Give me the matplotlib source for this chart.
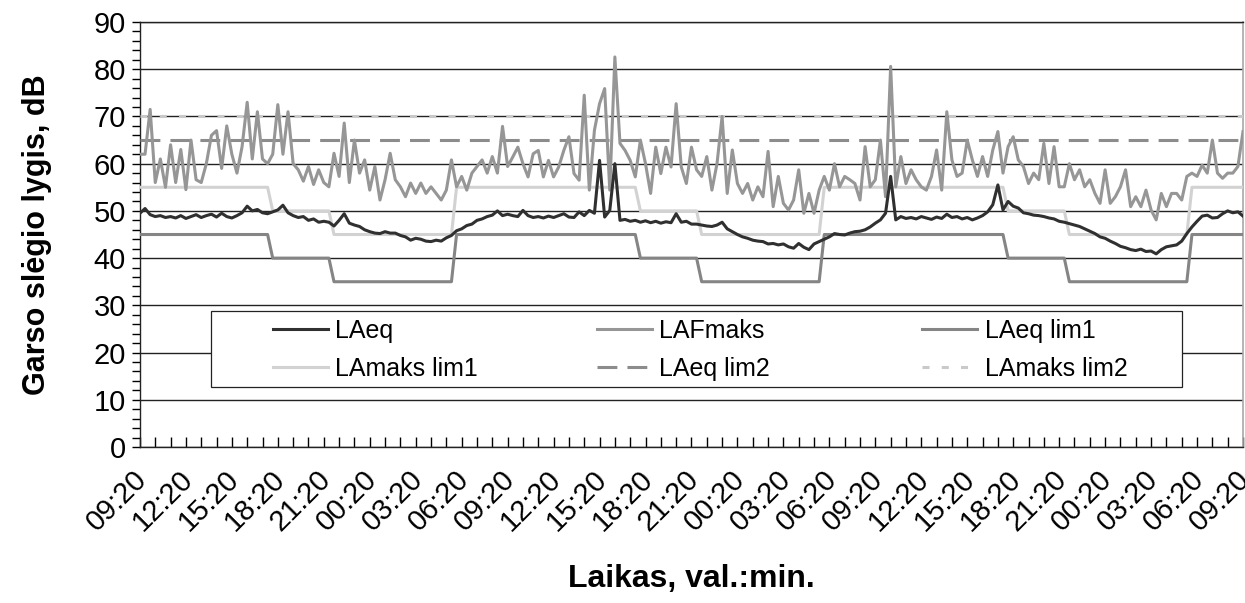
import numpy as np
import matplotlib
matplotlib.use("Agg")
import matplotlib.pyplot as plt
import matplotlib.transforms as mtransforms
from matplotlib.ticker import MultipleLocator
from matplotlib.patches import Rectangle

plt.rcParams['font.family'] = ['Liberation Sans', 'DejaVu Sans']

# Measurement series, one value every 20 minutes starting 09:20 (3 days)
SAMPLE_MIN = 20
START_HOUR = 9 + 20 / 60

laeq = [
    49.5, 50.5, 49.2, 48.8, 49.0, 48.6, 48.8, 48.5, 49.0, 48.4, 48.8, 49.2, 48.6,
    49.0, 49.3, 48.7, 49.5, 48.8, 48.5, 49.0, 49.6, 51.0, 50.0, 50.3, 49.6,
    49.4, 49.8, 50.2, 51.2, 49.6, 49.0, 48.6, 48.8, 48.0, 48.3, 47.6, 47.8,
    47.6, 46.8, 48.0, 49.4, 47.4, 47.0, 46.7, 46.0, 45.6, 45.3, 45.2, 45.6,
    45.3, 45.3, 44.8, 44.5, 43.8, 44.2, 44.0, 43.6, 43.5, 43.8, 43.6, 44.3,
    44.8, 45.8, 46.2, 46.9, 47.2, 48.0, 48.3, 48.8, 49.1, 50.0, 49.0, 49.3,
    49.0, 48.8, 50.1, 49.0, 48.6, 48.8, 48.5, 48.9, 48.6, 49.0, 49.4, 48.7,
    48.6, 49.8, 49.0, 50.1, 49.5, 60.7, 48.7, 50.1, 60.0, 48.0, 48.2, 47.8,
    48.0, 47.6, 47.9, 47.5, 47.8, 47.4, 47.7, 47.5, 49.4, 47.6, 47.8, 47.2,
    47.2, 47.0, 46.8, 46.7, 47.0, 47.6, 46.2, 45.6, 45.0, 44.5, 44.2, 43.8,
    43.6, 43.5, 43.0, 43.1, 42.8, 43.0, 42.4, 42.1, 43.1, 42.3, 41.8, 43.0,
    43.5, 44.0, 44.5, 45.2, 45.0, 44.9, 45.3, 45.6, 45.7, 46.0, 46.6, 47.4,
    48.1, 49.5, 57.3, 48.1, 48.8, 48.4, 48.6, 48.3, 48.8, 48.5, 48.2, 48.7,
    48.4, 49.3, 48.6, 48.8, 48.3, 48.6, 48.1, 48.5, 49.0, 49.8, 51.3, 55.5,
    50.2, 52.0, 51.0, 50.6, 49.6, 49.4, 49.1, 49.0, 48.8, 48.5, 48.3, 47.8,
    47.6, 47.3, 47.0, 46.7, 46.2, 45.7, 45.2, 44.5, 44.2, 43.6, 43.1, 42.5,
    42.2, 41.8, 41.6, 41.9, 41.4, 41.5, 40.9, 41.8, 42.4, 42.6, 42.8, 43.6,
    45.2, 46.6, 47.8, 48.9, 49.1, 48.5, 48.6, 49.4, 50.0, 49.6, 49.8, 48.9,
]

lafmaks = [
    62.0, 62.0, 71.5, 56.0, 61.0, 55.0, 64.0, 56.0, 63.0, 54.5, 65.0, 56.6, 56.0,
    60.0, 66.0, 67.0, 59.0, 68.0, 62.0, 58.0, 63.6, 73.0, 61.0, 71.0, 61.0,
    60.0, 62.0, 72.5, 62.0, 71.0, 60.0, 58.7, 56.3, 59.4, 55.6, 58.7, 56.0,
    55.1, 62.2, 57.3, 68.6, 56.0, 65.0, 58.0, 60.8, 54.4, 59.4, 52.3, 56.6,
    62.2, 56.6, 55.1, 53.0, 55.9, 53.7, 55.9, 53.7, 55.1, 53.7, 52.3, 54.4,
    60.8, 55.1, 57.3, 54.4, 58.0, 59.4, 60.8, 58.0, 61.5, 58.0, 67.9, 59.4,
    61.4, 63.5, 60.0, 57.2, 62.1, 62.8, 57.2, 60.7, 57.2, 59.3, 62.8, 65.7,
    57.9, 56.5, 74.5, 54.4, 67.1, 72.7, 75.9, 54.4, 82.6, 64.3, 62.8, 60.7,
    57.2, 65.0, 60.0, 53.7, 63.5, 57.9, 63.5, 59.3, 72.7, 59.3, 55.8, 63.5,
    58.7, 57.3, 61.5, 54.4, 60.0, 70.0, 53.7, 62.9, 55.8, 53.7, 55.8, 52.3,
    55.1, 53.0, 62.6, 50.9, 57.3, 51.6, 50.2, 52.3, 58.7, 49.5, 53.7, 49.5,
    54.4, 57.3, 54.4, 60.0, 55.1, 57.3, 56.6, 55.8, 52.3, 63.6, 55.1, 56.6,
    65.0, 53.0, 80.6, 55.1, 61.5, 55.8, 58.7, 56.6, 55.1, 54.4, 57.3, 62.9,
    54.4, 71.0, 60.8, 57.3, 58.0, 65.0, 60.8, 57.3, 61.5, 57.3, 62.9, 66.8,
    58.0, 63.6, 65.7, 60.8, 59.4, 55.8, 58.0, 56.6, 64.3, 55.8, 63.6, 55.1,
    55.1, 60.0, 56.6, 58.7, 55.1, 56.6, 53.7, 51.6, 58.7, 51.6, 53.0, 55.1,
    58.7, 50.9, 53.0, 50.9, 54.4, 50.2, 48.1, 53.7, 50.9, 53.7, 53.7, 52.3,
    57.3, 58.0, 57.3, 59.7, 58.0, 65.0, 58.0, 56.9, 58.0, 58.0, 59.4, 66.8,
]

# Permitted levels: day (06-18), evening (18-22), night (22-06)
period_start_h = [6, 18, 22]
laeq_lim1_levels = [45, 40, 35]
lamaks_lim1_levels = [55, 50, 45]
laeq_lim2_level = 65
lamaks_lim2_level = 70

tick_labels = ["09:20", "12:20", "15:20", "18:20", "21:20", "00:20", "03:20",
               "06:20", "09:20", "12:20", "15:20", "18:20", "21:20", "00:20",
               "03:20", "06:20", "09:20", "12:20", "15:20", "18:20", "21:20",
               "00:20", "03:20", "06:20", "09:20"]

hours = np.arange(len(laeq)) * SAMPLE_MIN / 60.0
clock = (START_HOUR + hours) % 24


def limit_for(levels):
    day, eve, night = levels
    return np.where((clock >= period_start_h[0]) & (clock < period_start_h[1]), day,
                    np.where((clock >= period_start_h[1]) & (clock < period_start_h[2]), eve, night))


laeq_lim1 = limit_for(laeq_lim1_levels)
lamaks_lim1 = limit_for(lamaks_lim1_levels)
laeq_lim2 = np.full(len(hours), laeq_lim2_level, dtype=float)
lamaks_lim2 = np.full(len(hours), lamaks_lim2_level, dtype=float)

fig = plt.figure(figsize=(12.45, 6.03), dpi=100)
ax = fig.add_axes([0.1124, 0.2587, 0.8860, 0.7048])

LW = 2.2
l_lim2m, = ax.plot(hours, lamaks_lim2, color='#c9c9c9', lw=LW, dashes=(2.3, 4.0),
                   label='LAmaks lim2', zorder=3)
l_lim2e, = ax.plot(hours, laeq_lim2, color='#8c8c8c', lw=LW, dashes=(6.5, 3.3),
                   label='LAeq lim2', zorder=3)
l_lim1m, = ax.plot(hours, lamaks_lim1, color='#d2d2d2', lw=LW, label='LAmaks lim1', zorder=3)
l_lim1e, = ax.plot(hours, laeq_lim1, color='#858585', lw=LW, label='LAeq lim1', zorder=3)
l_max, = ax.plot(hours, lafmaks, color='#969696', lw=LW, label='LAFmaks', zorder=4)
l_eq, = ax.plot(hours, laeq, color='#303030', lw=LW, label='LAeq', zorder=5)

ax.set_xlim(0, hours[-1])
ax.set_ylim(0, 90)

ax.yaxis.set_major_locator(MultipleLocator(10))
ax.yaxis.set_minor_locator(MultipleLocator(2))
ax.grid(axis='y', which='major', color='#222222', lw=1.0, zorder=1)
ax.set_axisbelow(True)
ax.tick_params(axis='y', which='both', direction='out', length=6, width=1.0,
               labelsize=21, pad=4)

ax.set_xticks(np.arange(0, 73, 3))
ax.set_xticklabels(tick_labels)
ax.xaxis.set_minor_locator(MultipleLocator(1))
ax.tick_params(axis='x', which='both', direction='in', length=7, width=1.0,
               labelsize=21, pad=13)
shift = mtransforms.ScaledTranslation(-7 / 100, 0, fig.dpi_scale_trans)
for lbl in ax.get_xticklabels():
    lbl.set_rotation(45)
    lbl.set_ha('right')
    lbl.set_va('top')
    lbl.set_rotation_mode('anchor')
    lbl.set_transform(lbl.get_transform() + shift)

for side in ('left', 'bottom', 'top'):
    ax.spines[side].set_color('#222222')
    ax.spines[side].set_linewidth(1.0)
ax.spines['right'].set_color('#a8a8a8')
ax.spines['right'].set_linewidth(1.2)

ax.set_ylabel("Garso slėgio lygis, dB", fontsize=22, fontweight='bold', labelpad=30)
ax.set_xlabel("Laikas, val.:min.", fontsize=23, fontweight='bold', labelpad=20)

# Legend box with three fixed-pitch columns
ax.add_patch(Rectangle((0.0644, 0.1412), 0.8803, 0.1788, transform=ax.transAxes,
                       facecolor='white', edgecolor='#222222', lw=0.9, zorder=6))
columns = [(0.1206, [l_eq, l_lim1m]), (0.4143, [l_max, l_lim2e]), (0.709, [l_lim1e, l_lim2m])]
legs = []
for x0, hs in columns:
    lg = ax.legend(handles=hs, loc='center left', bbox_to_anchor=(x0, 0.228),
                   frameon=False, borderpad=0, handlelength=2.2, handletextpad=0.3,
                   labelspacing=0.55, fontsize=18, borderaxespad=0)
    lg.set_zorder(7)
    legs.append(lg)
for lg in legs[:-1]:
    ax.add_artist(lg)

fig.savefig("out.png", dpi=100)
